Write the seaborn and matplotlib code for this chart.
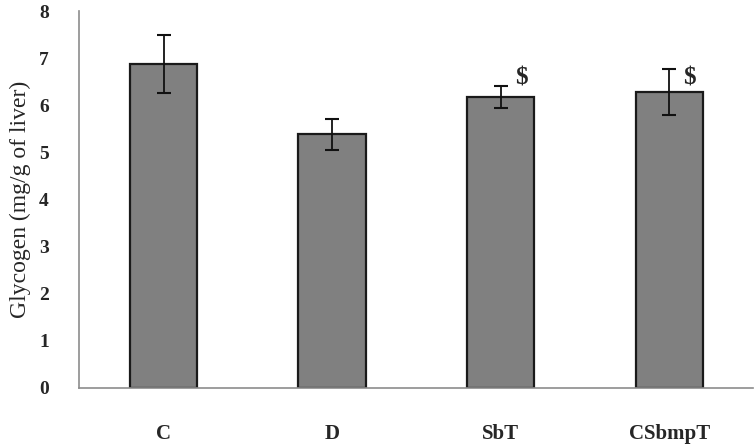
import matplotlib
matplotlib.use("Agg")
import matplotlib.pyplot as plt
import seaborn as sns
import pandas as pd

# values
groups = ["C", "D", "SbT", "CSbmpT"]
glycogen = [6.88, 5.39, 6.18, 6.28]
sem = [0.61, 0.33, 0.24, 0.49]
marks = ["", "", "$", "$"]

df = pd.DataFrame({"group": groups, "glycogen": glycogen})

sns.set_style("white")
plt.rcParams["font.family"] = ["Liberation Serif", "DejaVu Serif"]

fig = plt.figure(figsize=(7.55, 4.47), dpi=100)
ax = fig.add_axes([0.105, 0.132, 0.893, 0.843])

sns.barplot(data=df, x="group", y="glycogen", color="#808080", width=0.4,
            edgecolor="#1a1a1a", linewidth=1.6, saturation=1, ax=ax)
ax.errorbar(range(len(groups)), glycogen, yerr=sem, fmt="none",
            ecolor="#111111", elinewidth=1.3, capsize=5, capthick=1.5)

# significance marks next to the error bar tops
for i, (v, m) in enumerate(zip(glycogen, marks)):
    if m:
        ax.text(i + 0.12, 6.58, m, ha="center", va="center",
                fontsize=18, fontweight="bold")

ax.set_xlim(-0.5, 3.5)
ax.set_ylim(0, 8)
ax.set_yticks(range(0, 9))
ax.set_xlabel("")
ax.set_ylabel("Glycogen (mg/g of liver)", fontsize=17, labelpad=6)
ax.tick_params(axis="y", length=0, pad=22, labelsize=14)
ax.tick_params(axis="x", length=0, pad=26, labelsize=15)
for lab in ax.get_xticklabels() + ax.get_yticklabels():
    lab.set_fontweight("bold")

sns.despine(ax=ax)
for s in ["left", "bottom"]:
    ax.spines[s].set_color("#8c8c8c")
    ax.spines[s].set_linewidth(1.2)

fig.savefig("out.png", dpi=100)
